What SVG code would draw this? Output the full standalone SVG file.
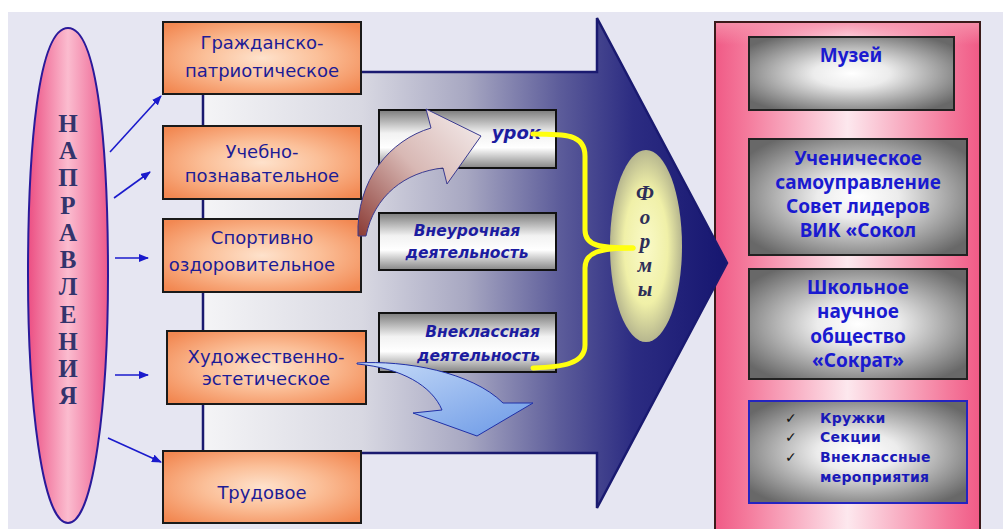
<svg xmlns="http://www.w3.org/2000/svg" width="1003" height="529" viewBox="0 0 1003 529">
<defs>
<style>
.ob{stroke:#1a1a1a;stroke-width:2;fill:url(#gOrange)}
.ot{font-family:"DejaVu Sans",Verdana,sans-serif;font-size:18px;fill:#1c1c96;text-anchor:middle}
.mb{stroke:#111;stroke-width:2;fill:url(#gSilver)}
.mt{font-family:"DejaVu Sans",sans-serif;font-weight:bold;font-style:italic;fill:#1c1ca0}
.rb{stroke:#222;stroke-width:2;fill:url(#gGray)}
.rt{font-family:"Noto Sans","Open Sans",sans-serif;font-weight:bold;font-size:19px;fill:#1a1ad0;text-anchor:middle}
.lt{font-family:"DejaVu Sans",sans-serif;font-weight:bold;font-size:14px;fill:#1a1ab8;letter-spacing:0.3px}
.ck{font-family:"DejaVu Sans",sans-serif;font-size:14px;fill:#111}
.vl{font-family:"Liberation Serif","DejaVu Serif",serif;font-weight:bold;font-size:25px;fill:#34346c;text-anchor:middle}
.fl{font-family:"Liberation Serif","DejaVu Serif",serif;font-weight:bold;font-style:italic;font-size:21px;fill:#2e2e58;text-anchor:middle}
.ar{stroke:#1a1acc;stroke-width:1.6;fill:none;marker-end:url(#ah)}
.yb{stroke:#ffff10;stroke-width:5;fill:none;stroke-linecap:round}
</style>
<marker id="ah" markerWidth="10" markerHeight="8" refX="9" refY="4" orient="auto" markerUnits="userSpaceOnUse">
<path d="M0,0 L10,4 L0,8 Z" fill="#1a1acc"/>
</marker>
<radialGradient id="gOrange" cx="50%" cy="50%" r="65%">
<stop offset="0" stop-color="#fee2cc"/>
<stop offset="0.45" stop-color="#fbbf98"/>
<stop offset="1" stop-color="#f28852"/>
</radialGradient>
<linearGradient id="gSilver" x1="0" y1="0" x2="0" y2="1">
<stop offset="0" stop-color="#7c7c7c"/>
<stop offset="0.4" stop-color="#f2f2f2"/>
<stop offset="0.65" stop-color="#ffffff"/>
<stop offset="1" stop-color="#858585"/>
</linearGradient>
<radialGradient id="gGray" cx="50%" cy="50%" r="62%">
<stop offset="0" stop-color="#ffffff"/>
<stop offset="0.3" stop-color="#ececec"/>
<stop offset="1" stop-color="#686868"/>
</radialGradient>
<linearGradient id="gPink" x1="0" y1="0" x2="1" y2="0">
<stop offset="0" stop-color="#f05a86"/>
<stop offset="0.12" stop-color="#f47a9c"/>
<stop offset="0.5" stop-color="#fde8ee"/>
<stop offset="0.88" stop-color="#f47a9c"/>
<stop offset="1" stop-color="#f05a86"/>
</linearGradient>
<linearGradient id="gPinkTop" x1="0" y1="0" x2="0" y2="1">
<stop offset="0" stop-color="#f690aa" stop-opacity="0.9"/>
<stop offset="1" stop-color="#f690aa" stop-opacity="0"/>
</linearGradient>
<linearGradient id="gEll" x1="0" y1="0" x2="1" y2="0">
<stop offset="0" stop-color="#ec4e82"/>
<stop offset="0.5" stop-color="#fbbccf"/>
<stop offset="1" stop-color="#ec5a8c"/>
</linearGradient>
<linearGradient id="gArrow" gradientUnits="userSpaceOnUse" x1="205" y1="0" x2="727" y2="0">
<stop offset="0" stop-color="#f4f4f6"/>
<stop offset="0.3" stop-color="#d8d8e2"/>
<stop offset="0.5" stop-color="#a8a8c2"/>
<stop offset="0.68" stop-color="#5c5c9a"/>
<stop offset="0.82" stop-color="#2c2c82"/>
<stop offset="1" stop-color="#161670"/>
</linearGradient>
<radialGradient id="gForm" cx="50%" cy="50%" r="55%">
<stop offset="0" stop-color="#fafac8"/>
<stop offset="0.55" stop-color="#f0f0a8"/>
<stop offset="1" stop-color="#a8a888"/>
</radialGradient>
<linearGradient id="gBrown" x1="1" y1="0" x2="0" y2="1">
<stop offset="0" stop-color="#f6f0f0"/>
<stop offset="0.5" stop-color="#d8b8b4"/>
<stop offset="1" stop-color="#8a3a34"/>
</linearGradient>
<linearGradient id="gBlue" x1="0" y1="0" x2="1" y2="1">
<stop offset="0" stop-color="#c8dcf8"/>
<stop offset="1" stop-color="#6a98e6"/>
</linearGradient>
</defs>

<rect x="0" y="0" width="1003" height="529" fill="#ffffff"/>
<rect x="8" y="12" width="995" height="517" fill="#e6e6f2"/>

<g id="right-panel">
<rect x="715" y="22" width="265" height="515" fill="url(#gPink)" stroke="#3a1a1a" stroke-width="2"/>
<rect x="716" y="23" width="263" height="22" fill="url(#gPinkTop)"/>
</g>

<g id="forms-arrow">
<path d="M203,72 L597,72 L597,18 L727,263 L597,508 L597,453 L203,453 Z" fill="url(#gArrow)" stroke="#1a1a70" stroke-width="2.5"/>
</g>

<g id="napravleniya">
<path d="M68,28 C98,28 108,150 108,275 C108,400 94,523 68,523 C42,523 28,400 28,275 C28,150 38,28 68,28 Z" fill="url(#gEll)" stroke="#2a1a9a" stroke-width="2"/>
<text class="vl" x="68" y="132">Н</text>
<text class="vl" x="68" y="159">А</text>
<text class="vl" x="68" y="186">П</text>
<text class="vl" x="68" y="214">Р</text>
<text class="vl" x="68" y="241">А</text>
<text class="vl" x="68" y="268">В</text>
<text class="vl" x="68" y="295">Л</text>
<text class="vl" x="68" y="323">Е</text>
<text class="vl" x="68" y="350">Н</text>
<text class="vl" x="68" y="377">И</text>
<text class="vl" x="68" y="404">Я</text>
</g>

<g id="box-grazhd">
<rect class="ob" x="163" y="22" width="198" height="72"/>
<text class="ot" x="262" y="49">Гражданско-</text>
<text class="ot" x="262" y="77">патриотическое</text>
</g>
<g id="box-uchebno">
<rect class="ob" x="163" y="126" width="198" height="73"/>
<text class="ot" x="262" y="158">Учебно-</text>
<text class="ot" x="262" y="182">познавательное</text>
</g>
<g id="box-sport">
<rect class="ob" x="163" y="219" width="198" height="73"/>
<text class="ot" x="262" y="244">Спортивно</text>
<text class="ot" x="252" y="271">оздоровительное</text>
</g>
<g id="box-hud">
<rect class="ob" x="167" y="331" width="199" height="73"/>
<text class="ot" x="266" y="363">Художественно-</text>
<text class="ot" x="266" y="385">эстетическое</text>
</g>
<g id="box-trud">
<rect class="ob" x="163" y="451" width="198" height="72"/>
<text class="ot" x="262" y="499">Трудовое</text>
</g>

<g id="box-urok">
<rect class="mb" x="379" y="110" width="177" height="58"/>
<text class="mt" x="541" y="139" font-size="18" text-anchor="end">урок</text>
</g>
<g id="box-vneuroch">
<rect class="mb" x="379" y="213" width="177" height="57"/>
<text class="mt" x="467" y="236" font-size="15.5" text-anchor="middle">Внеурочная</text>
<text class="mt" x="467" y="258" font-size="15.5" text-anchor="middle">деятельность</text>
</g>
<g id="box-vneklass">
<rect class="mb" x="379" y="313" width="177" height="59"/>
<text class="mt" x="540" y="337" font-size="15.5" text-anchor="end">Внеклассная</text>
<text class="mt" x="540" y="361" font-size="15.5" text-anchor="end">деятельность</text>
</g>

<g id="formy">
<ellipse cx="646" cy="246" rx="36" ry="96" fill="url(#gForm)"/>
<text class="fl" x="645" y="200">Ф</text>
<text class="fl" x="645" y="224">о</text>
<text class="fl" x="645" y="248">р</text>
<text class="fl" x="645" y="272">м</text>
<text class="fl" x="645" y="296">ы</text>
</g>

<g id="box-muzey">
<rect class="rb" x="749" y="37" width="205" height="73"/>
<text class="rt" x="851" y="62">Музей</text>
</g>
<g id="box-samoupr">
<rect class="rb" x="749" y="139" width="218" height="116"/>
<text class="rt" x="858" y="165">Ученическое</text>
<text class="rt" x="858" y="189">самоуправление</text>
<text class="rt" x="858" y="213">Совет лидеров</text>
<text class="rt" x="858" y="237">ВИК «Сокол</text>
</g>
<g id="box-sokrat">
<rect class="rb" x="749" y="269" width="218" height="110"/>
<text class="rt" x="858" y="294" font-size="18">Школьное</text>
<text class="rt" x="858" y="318" font-size="18">научное</text>
<text class="rt" x="858" y="343" font-size="18">общество</text>
<text class="rt" x="858" y="367" font-size="18">«Сократ»</text>
</g>
<g id="box-list">
<rect x="749" y="401" width="218" height="102" fill="url(#gGray)" stroke="#2424c0" stroke-width="2"/>
<text class="ck" x="785" y="423">✓</text>
<text class="ck" x="785" y="442">✓</text>
<text class="ck" x="785" y="462">✓</text>
<text class="lt" x="820" y="423">Кружки</text>
<text class="lt" x="820" y="442">Секции</text>
<text class="lt" x="820" y="462">Внеклассные</text>
<text class="lt" x="820" y="482">мероприятия</text>
</g>

<g id="connectors">
<line class="ar" x1="110" y1="152" x2="161" y2="96"/>
<line class="ar" x1="114" y1="198" x2="150" y2="172"/>
<line class="ar" x1="115" y1="258" x2="148" y2="258"/>
<line class="ar" x1="115" y1="375" x2="148" y2="375"/>
<line class="ar" x1="108" y1="438" x2="161" y2="462"/>
<path class="yb" d="M533,134 C565,134 585,134 585,156 L585,230 C585,246 600,248 633,248"/>
<path class="yb" d="M633,248 C600,248 585,252 585,268 L585,345 C585,364 562,367 533,368"/>
<path d="M358,236 C356,180 390,140 431,128 L426,109 L481,136 L447,184 L443,168 C405,172 374,196 366,236 Z" fill="url(#gBrown)" stroke="#3a3a90" stroke-width="1"/>
<path d="M357,363 C405,360 472,372 503,403 L533,403 L477,436 L413,413 L442,410 C432,386 402,368 357,364 Z" fill="url(#gBlue)" stroke="#2030a8" stroke-width="1"/>
</g>
</svg>
